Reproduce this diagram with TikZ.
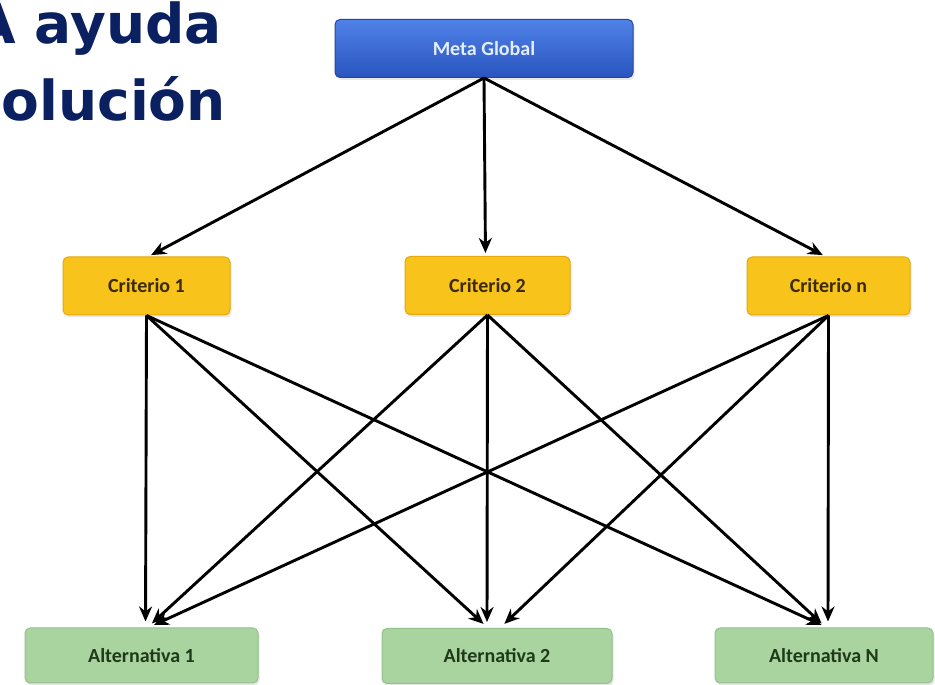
\documentclass[tikz,border=0pt]{standalone}
\usepackage{fontspec}
\setmainfont{Carlito}
\newfontfamily\titlefont{DejaVu Sans}
\usetikzlibrary{arrows.meta,shadows}
\definecolor{navy}{HTML}{0A2060}
\definecolor{metatop}{HTML}{4F82E8}
\definecolor{metabot}{HTML}{2A55BE}
\definecolor{metaborder}{HTML}{2446A0}
\definecolor{metatext}{HTML}{E4EEFF}
\definecolor{critfill}{HTML}{F8C31A}
\definecolor{critborder}{HTML}{E6A80E}
\definecolor{crittext}{HTML}{3C2A00}
\definecolor{altfill}{HTML}{A9D49F}
\definecolor{altborder}{HTML}{92C288}
\definecolor{alttext}{HTML}{1F3A1A}
\tikzset{
  boxbase/.style={rounded corners=5pt, line width=1pt, inner sep=0pt,
    font=\fontsize{20}{22}\selectfont\bfseries,
    drop shadow={opacity=0.18, shadow xshift=1.5pt, shadow yshift=-2.5pt}},
  metabox/.style={boxbase, draw=metaborder, top color=metatop, bottom color=metabot,
    text=metatext, minimum width=298pt, minimum height=58pt},
  critbox/.style={boxbase, draw=critborder, fill=critfill, text=crittext,
    minimum width=165pt, minimum height=58pt},
  altbox/.style={boxbase, draw=altborder, fill=altfill, text=alttext,
    minimum height=55pt},
  link/.style={line width=2.9pt, draw=black, -{Stealth[length=15pt,width=13pt]}},
  titletext/.style={text=navy, font=\titlefont\fontsize{55}{60}\selectfont\bfseries, inner sep=0pt}
}
\begin{document}
\begin{tikzpicture}[x=1pt,y=1pt]
\clip (0,0) rectangle (935,685);
\fill[white] (0,0) rectangle (935,685);

\node[titletext, anchor=base east] (t1) at (222,641) {A ayuda};
\node[titletext, anchor=base east] (t2) at (226,564) {olución};

\node[metabox] (meta) at (484,636.5) {Meta Global};

\node[critbox, minimum width=167pt] (c1) at (146.5,399) {Criterio 1};
\node[critbox] (c2) at (487.5,399.5) {Criterio 2};
\node[critbox, minimum width=163pt] (cn) at (828.5,399) {Criterio n};

\node[altbox, minimum width=233pt] (a1) at (141.5,29.5) {Alternativa 1};
\node[altbox, minimum width=230pt] (a2) at (497,29) {Alternativa 2};
\node[altbox, minimum width=218pt] (an) at (824,29.5) {Alternativa N};

\draw[link, shorten >=3pt] (meta.south) -- ([xshift=2pt]c1.north);
\draw[link, shorten >=3pt] (meta.south) -- ([xshift=-2pt]c2.north);
\draw[link, shorten >=3pt] (meta.south) -- ([xshift=-3pt]cn.north);

\draw[link, shorten >=6pt] (c1.south) -- ([xshift=4pt]a1.north);
\draw[link, shorten >=6pt] (c1.south) -- ([xshift=-9pt]a2.north);
\draw[link, shorten >=6pt] (c1.south) -- ([xshift=3pt]an.north);

\draw[link, shorten >=6pt] (c2.south) -- ([xshift=6pt]a1.north);
\draw[link, shorten >=6pt] (c2.south) -- ([xshift=-10pt]a2.north);
\draw[link, shorten >=6pt] (c2.south) -- ([xshift=2pt]an.north);

\draw[link, shorten >=6pt] (cn.south) -- ([xshift=7pt]a1.north);
\draw[link, shorten >=6pt] (cn.south) -- ([xshift=3pt]a2.north);
\draw[link, shorten >=6pt] (cn.south) -- ([xshift=4pt]an.north);
\end{tikzpicture}
\end{document}
